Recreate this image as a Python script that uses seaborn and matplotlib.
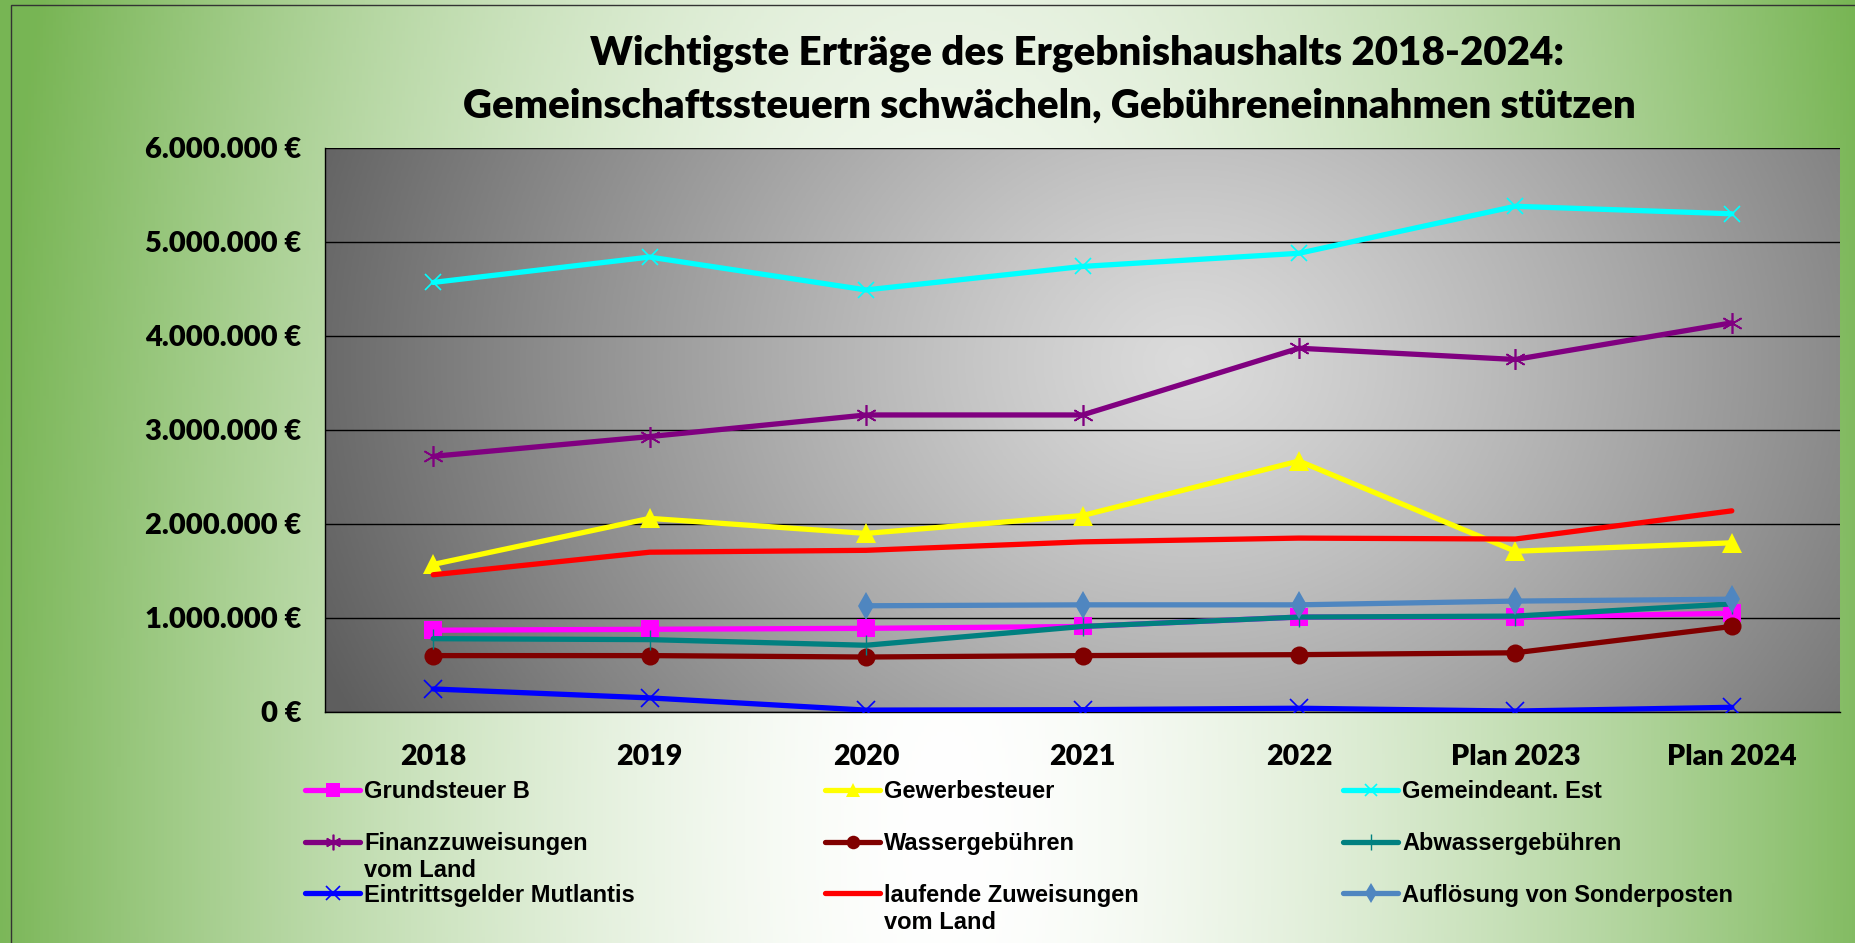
import numpy as np
import pandas as pd
import matplotlib
matplotlib.use("Agg")
import matplotlib.pyplot as plt
from matplotlib.ticker import FuncFormatter, FixedLocator
from matplotlib.patches import Rectangle
import seaborn as sns

# ---------------- data ----------------
years = ["2018", "2019", "2020", "2021", "2022", "Plan 2023", "Plan 2024"]
grundsteuer_b = [870000, 880000, 890000, 910000, 1010000, 1010000, 1050000]
gewerbesteuer = [1570000, 2060000, 1900000, 2090000, 2670000, 1710000, 1800000]
gemeindeant_est = [4570000, 4840000, 4490000, 4740000, 4880000, 5380000, 5300000]
finanzzuweisungen = [2720000, 2930000, 3160000, 3160000, 3870000, 3750000, 4140000]
wassergebuehren = [600000, 600000, 585000, 600000, 610000, 630000, 910000]
abwassergebuehren = [780000, 770000, 710000, 910000, 1010000, 1020000, 1150000]
eintrittsgelder = [245000, 150000, 20000, 25000, 40000, 10000, 50000]
laufende_zuweisungen = [1460000, 1700000, 1720000, 1810000, 1850000, 1840000, 2140000]
sonderposten = [np.nan, np.nan, 1130000, 1140000, 1140000, 1180000, 1200000]

labels = ["Grundsteuer B", "Gewerbesteuer", "Gemeindeant. Est",
          "Finanzzuweisungen", "Wassergebühren", "Abwassergebühren",
          "Eintrittsgelder Mutlantis", "laufende Zuweisungen",
          "Auflösung von Sonderposten"]
label_second_lines = {3: "vom Land", 7: "vom Land"}
series = [grundsteuer_b, gewerbesteuer, gemeindeant_est, finanzzuweisungen,
          wassergebuehren, abwassergebuehren, eintrittsgelder,
          laufende_zuweisungen, sonderposten]

title_line1 = "Wichtigste Erträge des Ergebnishaushalts 2018-2024:"
title_line2 = "Gemeinschaftssteuern schwächeln, Gebühreneinnahmen stützen"

# ---------------- styles ----------------
styles = [
    dict(color="#FF00FF", marker="s", markersize=13, mew=0),
    dict(color="#FFFF00", marker="^", markersize=14, mew=0),
    dict(color="#00FFFF", marker="x", markersize=12, mew=1.2),
    dict(color="#800080", marker=(6, 2, 0), markersize=15, mew=1.2),
    dict(color="#800000", marker="o", markersize=13, mew=0),
    dict(color="#008080", marker="|", markersize=15, mew=1.0),
    dict(color="#0000FF", marker="x", markersize=13, mew=1.2),
    dict(color="#FF0000", marker=None, markersize=0, mew=0),
    dict(color="#4F86C0", marker="d", markersize=14, mew=0),
]

sns.set_style("white")
plt.rcParams["font.family"] = ["Lato", "DejaVu Sans"]
plt.rcParams["text.color"] = "black"
plt.rcParams["xtick.color"] = "black"
plt.rcParams["ytick.color"] = "black"

W, H = 1855, 943
fig = plt.figure(figsize=(W / 100, H / 100), dpi=100)

# green radial background
bg = fig.add_axes([0, 0, 1, 1], zorder=-10)
yy, xx = np.mgrid[0:1:300j, 0:1:600j]
d = np.sqrt(((xx - 0.51) / 0.52) ** 2 + ((yy - 0.12) / 2.6) ** 2)
t = np.clip(d, 0, 1) ** 1.6
white = np.array([1.0, 1.0, 1.0])
green = np.array([0.47, 0.71, 0.33])
img = white[None, None, :] * (1 - t[..., None]) + green[None, None, :] * t[..., None]
bg.imshow(img, extent=[0, 1, 0, 1], origin="lower", aspect="auto")
bg.set_xlim(0, 1)
bg.set_ylim(0, 1)
bg.axis("off")

# main axes
ax = fig.add_axes([325 / W, 1 - 712 / H, (1840 - 325) / W, (712 - 148) / H])
ax.patch.set_visible(False)
x = np.arange(len(years))
for vals, st in zip(series, styles):
    sns.lineplot(x=x, y=vals, ax=ax, color=st["color"], marker=st["marker"],
                 markersize=st["markersize"], markeredgewidth=st["mew"],
                 markeredgecolor=st["color"], linewidth=3.8, sort=False,
                 errorbar=None, legend=False, zorder=3)

# grey gradient plot area
gy, gx = np.mgrid[0:1:200j, 0:1:400j]
gd = np.sqrt(((gx - 0.57) / 0.62) ** 2 + ((gy - 0.62) / 1.4) ** 2)
gt = np.clip(gd, 0, 1) ** 1.2
light = np.array([0.86, 0.86, 0.86])
dark = np.array([0.37, 0.37, 0.37])
gimg = light[None, None, :] * (1 - gt[..., None]) + dark[None, None, :] * gt[..., None]
ax.imshow(gimg, extent=[0, 1, 0, 1], origin="lower", aspect="auto",
          transform=ax.transAxes, zorder=0)

ax.set_xlim(-0.5, len(years) - 0.5)
ax.set_ylim(0, 6000000)
ax.set_xticks(x)
ax.set_xticklabels(years)
ax.xaxis.set_minor_locator(FixedLocator(np.arange(-0.5, len(years), 1.0)))
ax.yaxis.set_major_locator(FixedLocator(np.arange(0, 6000001, 1000000)))
ax.yaxis.set_major_formatter(FuncFormatter(
    lambda v, p: f"{int(round(v)):,}".replace(",", ".") + " €"))
ax.tick_params(axis="x", which="major", length=0, pad=23, labelsize=20.5)
ax.tick_params(axis="x", which="minor", length=9, width=1, color="black",
               direction="out")
ax.tick_params(axis="y", which="major", length=9, width=1, color="black",
               direction="out", pad=8, labelsize=21)
for lab in ax.get_xticklabels() + ax.get_yticklabels():
    lab.set_fontweight("heavy")
    lab.set_color("black")
ax.grid(axis="y", color="black", linewidth=1.0, zorder=1)
ax.set_axisbelow(False)
for s in ["top", "right"]:
    ax.spines[s].set_visible(False)
for s in ["left", "bottom"]:
    ax.spines[s].set_color("black")
    ax.spines[s].set_linewidth(1.0)
    ax.spines[s].set_zorder(2)
ax.set_xlabel("")
ax.set_ylabel("")

# title (two lines, each centred as in the original)
fig.text(1077 / W, 1 - 53 / H, title_line1, ha="center", va="center",
         color="black", fontsize=29, fontweight="heavy")
fig.text(1049 / W, 1 - 106 / H, title_line2, ha="center", va="center",
         color="black", fontsize=29, fontweight="heavy")

# legend (three columns, rows aligned)
lines = ax.get_lines()
col_idx = [[0, 3, 6], [1, 4, 7], [2, 5, 8]]
col_x = [305, 825, 1343]
legprop = dict(family="Liberation Sans", weight="bold", size=17)
legs = []
for ci, idxs in enumerate(col_idx):
    leg = fig.legend([lines[i] for i in idxs], [labels[i] for i in idxs],
                     loc="upper left", bbox_to_anchor=(col_x[ci] / W, 1 - 780 / H),
                     frameon=False, handlelength=2.35, handletextpad=0.15,
                     labelspacing=1.22, borderpad=0, borderaxespad=0,
                     prop=legprop, labelcolor="black")
    for h in leg.legend_handles:
        h.set_markersize(h.get_markersize() * 0.75)
    legs.append(leg)

fig.canvas.draw()
renderer = fig.canvas.get_renderer()
for ci, idxs in enumerate(col_idx):
    for k, i in enumerate(idxs):
        if i in label_second_lines:
            bb = legs[ci].get_texts()[k].get_window_extent(renderer)
            fig.text(bb.x0 / W, (bb.y0 - 4) / H, label_second_lines[i],
                     ha="left", va="top", color="black",
                     family="Liberation Sans", weight="bold", size=17)

# outer border
fig.add_artist(Rectangle((11 / W, -0.1), 2.0, 1.1 - 5 / H, transform=fig.transFigure,
                         fill=False, edgecolor="#333333", linewidth=1.0))

fig.savefig("out.png", dpi=100)
